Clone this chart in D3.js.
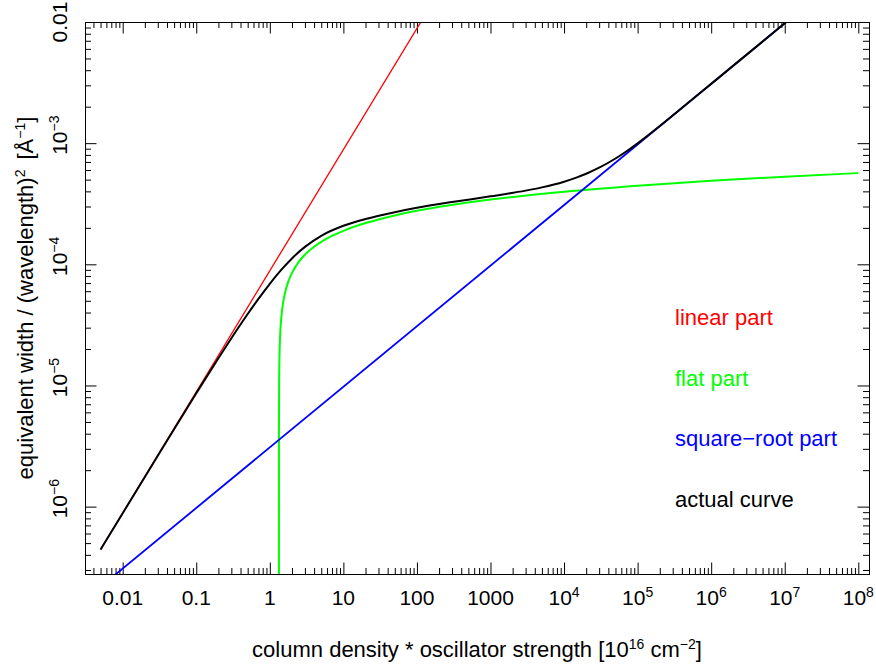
<!DOCTYPE html>
<html><head><meta charset="utf-8">
<script src="https://cdn.jsdelivr.net/npm/d3@7"></script>
<style>
body{margin:0;background:#fff}
svg{display:block}
text{font-family:"Liberation Sans",Arial,Helvetica,sans-serif;fill:#000}
</style>
</head><body>
<svg id="chart" width="876" height="666"></svg>
<script>
// ---------- data ----------
const xTickValues = [0.01, 0.1, 1, 10, 100, 1000, 1e4, 1e5, 1e6, 1e7, 1e8];
const xTickBase   = ["0.01", "0.1", "1", "10", "100", "1000", "10", "10", "10", "10", "10"];
const xTickExp    = ["", "", "", "", "", "", "4", "5", "6", "7", "8"];

const yTickValues = [1e-6, 1e-5, 1e-4, 1e-3, 1e-2];
const yTickBase   = ["10", "10", "10", "10", "0.01"];
const yTickExp    = ["\u22126", "\u22125", "\u22124", "\u22123", ""];

// linear part (red)
const linearX = [0.005, 1000];
const linearY = [4.425e-7, 8.85e-2];

// square-root part (blue)
const sqrtX = [0.005, 1e8];
const sqrtY = [2.18e-7, 3.086e-2];

// flat part (green)
const flatX = [1.33, 1.331, 1.335, 1.34, 1.35, 1.37, 1.40, 1.45, 1.5, 1.6, 1.8, 2.0, 2.5, 3, 4, 5, 7, 10, 20, 50, 100, 1000, 1e4, 1e5, 1e6, 1e7, 1e8];
const flatY = [1e-7, 3.65e-6, 8.15e-6, 1.151e-5, 1.625e-5, 2.289e-5, 3.012e-5, 3.909e-5, 4.613e-5, 5.718e-5, 7.316e-5, 8.495e-5, 1.0566e-4, 1.1995e-4, 1.3956e-4, 1.5305e-4, 1.714e-4, 1.8891e-4, 2.1897e-4, 2.5329e-4, 2.7644e-4, 3.4227e-4, 3.9734e-4, 4.4566e-4, 4.8922e-4, 5.2922e-4, 5.6639e-4];

// actual curve (black)
const actualX = [0.005, 0.01, 0.03, 0.1, 0.2, 0.3, 0.5, 0.7, 1.0, 1.5, 2, 3, 5, 10, 20, 50, 100, 300, 1000, 3000, 5000, 1e4, 1.5e4, 2e4, 3e4, 5e4, 7e4, 1e5, 2e5, 5e5, 1e6, 1e7, 2e7];
const actualY = [4.42e-7, 8.83e-7, 2.634e-6, 8.62e-6, 1.68e-5, 2.456e-5, 3.893e-5, 5.19e-5, 6.91e-5, 9.29e-5, 1.118e-4, 1.393e-4, 1.719e-4, 2.079e-4, 2.366e-4, 2.695e-4, 2.928e-4, 3.266e-4, 3.64e-4, 4.056e-4, 4.316e-4, 4.81e-4, 5.221e-4, 5.594e-4, 6.271e-4, 7.469e-4, 8.534e-4, 9.964e-4, 1.3838e-3, 2.1822e-3, 3.086e-3, 9.759e-3, 1.380e-2];

const legendLabels = ["linear part", "flat part", "square\u2212root part", "actual curve"];
const legendColors = ["#ff0000", "#00ff00", "#0000ff", "#000000"];

// ---------- layout ----------
const L = 85, R = 869, T = 22, B = 574;
const svg = d3.select("#chart");

const x = d3.scaleLog().domain([Math.pow(10, -2.5125), Math.pow(10, 8.1455)]).range([L, R]);
const y = d3.scaleLog().domain([Math.pow(10, -6.556), 0.01]).range([B, T]);

const isMajor = v => Math.abs(Math.log10(v) - Math.round(Math.log10(v))) < 1e-9;
const xAll = x.ticks(30);
const yAll = y.ticks(30);
const xMinor = xAll.filter(v => !isMajor(v));
const yMinor = yAll.filter(v => !isMajor(v));
const xMajor = xAll.filter(isMajor);
const yMajor = yAll.filter(isMajor);

const MAJ = 11.5, MIN = 6;

function addAxis(axisFn, scale, vals, size, tx, ty) {
  const g = svg.append("g").attr("transform", `translate(${tx},${ty})`)
    .call(axisFn(scale).tickValues(vals).tickSize(-size).tickFormat(""));
  g.select(".domain").remove();
  g.selectAll("line").attr("stroke", "#000").attr("stroke-width", 1);
}
addAxis(d3.axisBottom, x, xMajor, MAJ, 0, B);
addAxis(d3.axisBottom, x, xMinor, MIN, 0, B);
addAxis(d3.axisTop, x, xMajor, MAJ, 0, T);
addAxis(d3.axisTop, x, xMinor, MIN, 0, T);
addAxis(d3.axisLeft, y, yMajor, MAJ, L, 0);
addAxis(d3.axisLeft, y, yMinor, MIN, L, 0);
addAxis(d3.axisRight, y, yMajor, MAJ, R, 0);
addAxis(d3.axisRight, y, yMinor, MIN, R, 0);

svg.append("rect").attr("x", L + 0.5).attr("y", T + 0.5)
  .attr("width", R - L).attr("height", B - T)
  .attr("fill", "none").attr("stroke", "#000").attr("stroke-width", 1);

// ---------- curves ----------
svg.append("clipPath").attr("id", "plotclip").append("rect")
  .attr("x", L + 1).attr("y", T + 1).attr("width", R - L - 1).attr("height", B - T - 1);
const plot = svg.append("g").attr("clip-path", "url(#plotclip)");

const zip = (a, b) => a.map((v, i) => [v, b[i]]);
const lineStraight = d3.line().x(d => x(d[0])).y(d => y(d[1]));
const lineSmooth = d3.line().x(d => x(d[0])).y(d => y(d[1])).curve(d3.curveMonotoneX);

plot.append("path").attr("d", lineStraight(zip(linearX, linearY)))
  .attr("fill", "none").attr("stroke", "#ff0000").attr("stroke-width", 1.3);
plot.append("path").attr("d", lineSmooth(zip(flatX, flatY)))
  .attr("fill", "none").attr("stroke", "#00ff00").attr("stroke-width", 2);
plot.append("path").attr("d", lineStraight(zip(sqrtX, sqrtY)))
  .attr("fill", "none").attr("stroke", "#0000ff").attr("stroke-width", 1.8);
plot.append("path").attr("d", lineSmooth(zip(actualX, actualY)))
  .attr("fill", "none").attr("stroke", "#000000").attr("stroke-width", 2);

// ---------- tick labels ----------
const TICK_FS = 21, SUP_FS = 14, SUP_DY = -8;
xTickValues.forEach((v, i) => {
  const t = svg.append("text").attr("x", x(v)).attr("y", 605)
    .attr("text-anchor", "middle").style("font-size", TICK_FS + "px");
  t.append("tspan").text(xTickBase[i]);
  if (xTickExp[i]) t.append("tspan").attr("dy", SUP_DY).style("font-size", SUP_FS + "px").text(xTickExp[i]);
});

yTickValues.forEach((v, i) => {
  const g = svg.append("g").attr("transform", `translate(67,${y(v)}) rotate(-90)`);
  const t = g.append("text").attr("x", 0).attr("y", 0)
    .attr("text-anchor", "start").style("font-size", TICK_FS + "px");
  const b = t.append("tspan").text(yTickBase[i]);
  if (yTickExp[i]) t.append("tspan").attr("dy", SUP_DY).style("font-size", SUP_FS + "px").text(yTickExp[i]);
  const bw = b.node().getComputedTextLength();
  t.attr("x", -bw / 2);
});

// ---------- axis titles ----------
const xt = svg.append("text").attr("x", (L + R) / 2).attr("y", 657)
  .attr("text-anchor", "middle").style("font-size", "22px");
xt.append("tspan").text("column density * oscillator strength [10");
xt.append("tspan").attr("dy", -8).style("font-size", "14px").text("16");
xt.append("tspan").attr("dy", 8).text(" cm");
xt.append("tspan").attr("dy", -8).style("font-size", "14px").text("\u22122");
xt.append("tspan").attr("dy", 8).text("]");

const yt = svg.append("text")
  .attr("transform", `translate(33,${(T + B) / 2}) rotate(-90)`)
  .attr("text-anchor", "middle").style("font-size", "22px");
yt.append("tspan").text("equivalent width / (wavelength)");
yt.append("tspan").attr("dy", -8).style("font-size", "14px").text("2");
yt.append("tspan").attr("dy", 8).attr("dx", 10).text("[\u00c5");
yt.append("tspan").attr("dy", -8).style("font-size", "14px").text("\u22121");
yt.append("tspan").attr("dy", 8).text("]");

// ---------- legend ----------
legendLabels.forEach((lab, i) => {
  svg.append("text").attr("x", 675).attr("y", 325 + i * 60.7)
    .style("font-size", "22px").style("fill", legendColors[i]).text(lab);
});
</script>
</body></html>
